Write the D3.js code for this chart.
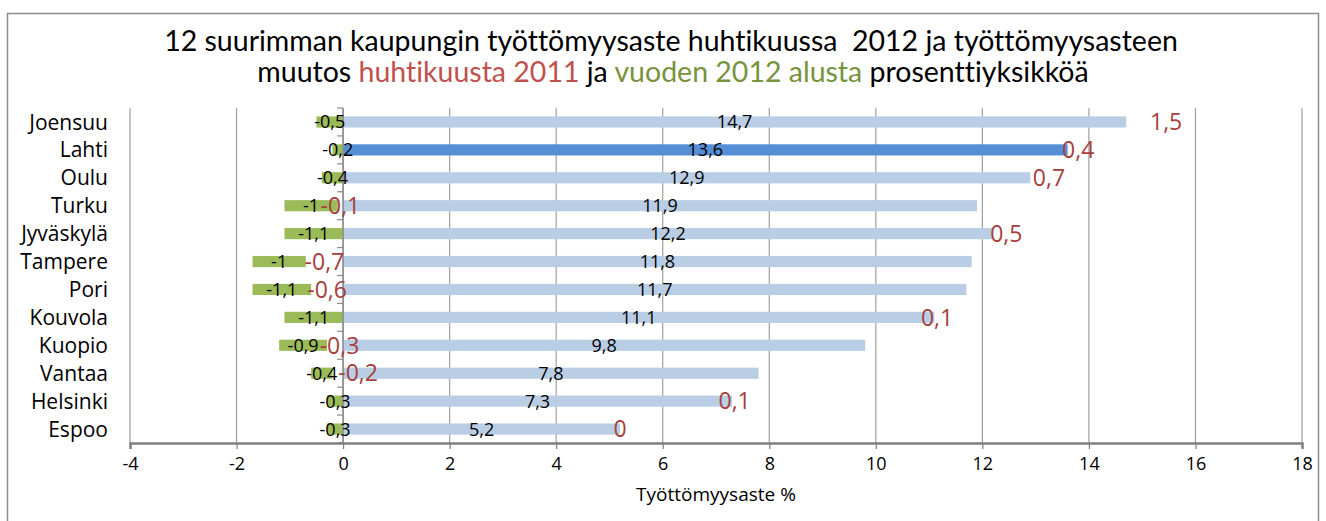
<!DOCTYPE html>
<html>
<head>
<meta charset="utf-8">
<script src="https://cdn.jsdelivr.net/npm/d3@7"></script>
<style>
  body { margin: 0; background: #fff; }
  text { white-space: pre; font-variant-ligatures: none; }
</style>
</head>
<body>
<script>
// data
var cities = ["Joensuu","Lahti","Oulu","Turku","Jyväskylä","Tampere","Pori","Kouvola","Kuopio","Vantaa","Helsinki","Espoo"];
var rate = [14.7,13.6,12.9,11.9,12.2,11.8,11.7,11.1,9.8,7.8,7.3,5.2];
var changeYear = [1.5,0.4,0.7,-0.1,0.5,-0.7,-0.6,0.1,-0.3,-0.2,0.1,0];     // huhtikuusta 2011
var changeStart = [-0.5,-0.2,-0.4,-1,-1.1,-1,-1.1,-1.1,-0.9,-0.4,-0.3,-0.3]; // vuoden 2012 alusta
var highlight = ["Lahti"];
var xTicks = [-4,-2,0,2,4,6,8,10,12,14,16,18];

var width = 1326, height = 521;
var margin = {top: 108, right: 24, bottom: 78, left: 130};
var font = "'Open Sans', 'Noto Sans', sans-serif";

var keys = ["rate","red","green"];
var rows = cities.map((c,i) => ({city: c, rate: rate[i], red: changeYear[i], green: changeStart[i]}));

// diverging stack like excel: zero values go on the positive side
var series = keys.map(k => { var s = rows.map(r => { var p = [0,0]; p.data = r; return p; }); s.key = k; return s; });
rows.forEach((r, j) => {
  var pos = 0, neg = 0;
  keys.forEach((k, i) => {
    var v = r[k], p = series[i][j];
    if (v >= 0) { p[0] = pos; p[1] = pos += v; }
    else { p[0] = neg; p[1] = neg += v; }
  });
});

var svg = d3.select("body").append("svg")
    .attr("width", width)
    .attr("height", height);

svg.append("rect")
    .attr("x", 7.5).attr("y", 13.5)
    .attr("width", 1311).attr("height", 520)
    .attr("fill", "#fff").attr("stroke", "#8c8c8c").attr("stroke-width", 1.5);

var x = d3.scaleLinear()
    .domain([-4, 18])
    .range([margin.left, width - margin.right]);
var y = d3.scaleBand()
    .domain(cities)
    .range([margin.top, height - margin.bottom])
    .paddingInner(0.6).paddingOuter(0.3);

// title
var title = svg.append("text")
    .attr("text-anchor", "middle")
    .style("font-family", "Lato, 'Open Sans', sans-serif")
    .style("font-size", "28.5px")
    .attr("fill", "#000");
title.append("tspan").attr("x", 671).attr("y", 51)
    .text("12 suurimman kaupungin työttömyysaste huhtikuussa  2012 ja työttömyysasteen");
var l2 = title.append("tspan").attr("x", 673).attr("y", 82);
l2.append("tspan").text("muutos ");
l2.append("tspan").attr("fill", "#C0504D").text("huhtikuusta 2011");
l2.append("tspan").text(" ja ");
l2.append("tspan").attr("fill", "#77933C").text("vuoden 2012 alusta");
l2.append("tspan").text(" prosenttiyksikköä");

// grid
svg.append("g")
  .selectAll("line")
  .data(xTicks)
  .join("line")
    .attr("x1", d => x(d)).attr("x2", d => x(d))
    .attr("y1", margin.top).attr("y2", height - margin.bottom)
    .attr("stroke", "#a0a0a0").attr("stroke-width", 1.2);

// bars
var colors = {rate: "#B9CDE5", red: "none", green: "#9BBB59"};
series.forEach(s => {
  svg.append("g")
    .selectAll("rect")
    .data(s)
    .join("rect")
      .attr("x", d => x(Math.min(d[0], d[1])))
      .attr("width", d => Math.abs(x(d[1]) - x(d[0])))
      .attr("y", d => y(d.data.city))
      .attr("height", y.bandwidth())
      .attr("fill", d => s.key == "rate" && highlight.includes(d.data.city) ? "#558ED5" : colors[s.key]);
});

// y axis at zero
var yAxisG = svg.append("g");
yAxisG.append("line")
    .attr("x1", x(0)).attr("x2", x(0))
    .attr("y1", margin.top).attr("y2", height - margin.bottom)
    .attr("stroke", "#8c8c8c").attr("stroke-width", 1.5);
yAxisG.selectAll("line.tk")
  .data(d3.range(cities.length + 1))
  .join("line")
    .attr("class", "tk")
    .attr("x1", x(0) - 6).attr("x2", x(0))
    .attr("y1", i => margin.top + i * y.step())
    .attr("y2", i => margin.top + i * y.step())
    .attr("stroke", "#8c8c8c").attr("stroke-width", 1.2);

// category labels
svg.append("g")
  .selectAll("text")
  .data(cities)
  .join("text")
    .attr("x", 108)
    .attr("y", d => y(d) + y.bandwidth() / 2)
    .attr("dy", "0.36em")
    .attr("text-anchor", "end")
    .style("font-family", font)
    .style("font-size", "21px")
    .attr("fill", "#000")
    .text(d => d);

// x axis
var xAxis = g => g
    .attr("transform", `translate(0,${height - margin.bottom})`)
    .call(d3.axisBottom(x).tickValues(xTicks).tickSize(6).tickPadding(8).tickFormat(d => d))
    .call(g => g.select(".domain").attr("stroke", "#7f7f7f").attr("stroke-width", 2.5))
    .call(g => g.selectAll(".tick line").attr("stroke", "#7f7f7f").attr("stroke-width", 1.2))
    .call(g => g.selectAll(".tick text")
        .style("font-family", font)
        .style("font-size", "18px")
        .attr("fill", "#000"));
svg.append("g").call(xAxis);

svg.append("text")
    .attr("x", 716).attr("y", 501)
    .attr("text-anchor", "middle")
    .style("font-family", font)
    .style("font-size", "19px")
    .text("Työttömyysaste %");

// data labels
var fmt = v => String(v).replace(".", ",");
var labels = {};
series.forEach(s => {
  labels[s.key] = svg.append("g")
    .selectAll("text")
    .data(s)
    .join("text")
      .attr("x", d => x((d[0] + d[1]) / 2))
      .attr("y", d => y(d.data.city) + y.bandwidth() / 2)
      .attr("dy", "0.36em")
      .attr("text-anchor", "middle")
      .style("font-family", font)
      .style("font-size", s.key == "red" ? "23px" : "18px")
      .attr("fill", s.key == "red" ? "#A5403D" : "#000")
      .text(d => fmt(d.data[s.key]));
});

// push negative red labels right when they run into the green label
var greenNodes = labels.green.nodes();
labels.red.each(function(d, i) {
  if (d.data.red >= 0) return;
  var g = greenNodes[i].getBBox(), r = this.getBBox();
  if (r.x < g.x + g.width) {
    d3.select(this).attr("text-anchor", "start").attr("x", g.x + g.width + 1);
  }
});
</script>
</body>
</html>
